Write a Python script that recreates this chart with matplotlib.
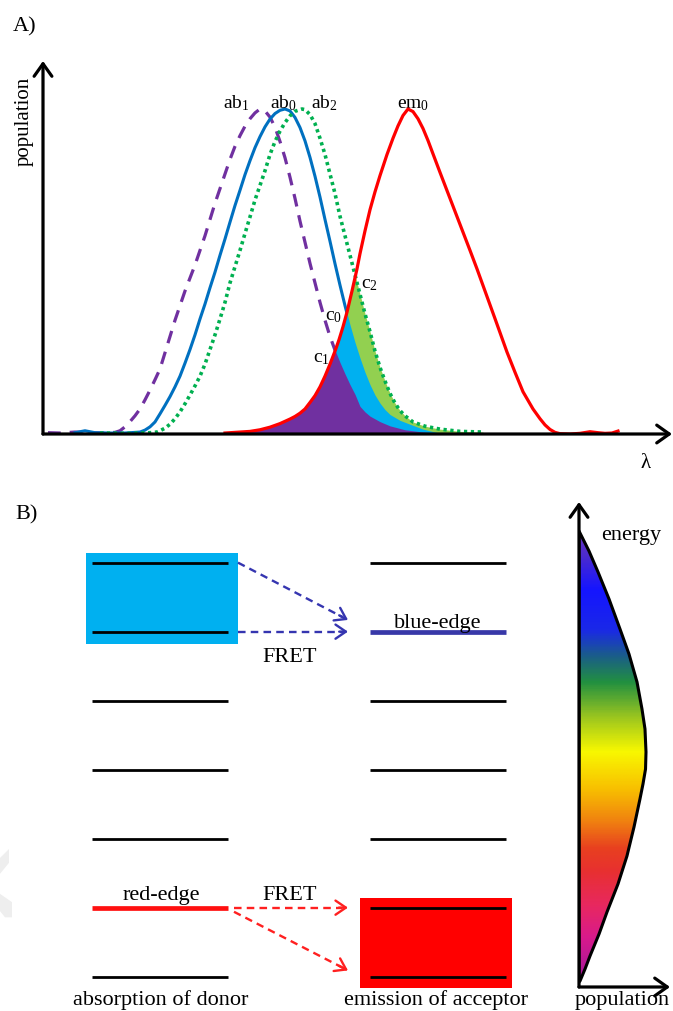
import numpy as np
import matplotlib
matplotlib.use('Agg')
import matplotlib.pyplot as plt
from matplotlib.patches import Polygon, Rectangle
from matplotlib.colors import LinearSegmentedColormap

plt.rcParams['font.family'] = ['Liberation Serif', 'DejaVu Serif']
plt.rcParams['mathtext.fontset'] = 'custom'
plt.rcParams['mathtext.rm'] = 'Liberation Serif'
plt.rcParams['mathtext.it'] = 'Liberation Serif:italic'
plt.rcParams['mathtext.default'] = 'regular'

# ---------------- Panel A data (wavelength, arb. units / normalised population)
ab1_x = [48, 60, 75, 90, 105, 115, 120, 125, 130, 135, 140, 145, 150, 155, 160, 165, 170, 175, 180,
         185, 190, 195, 200, 205, 210, 215, 220, 225, 230, 235, 240, 245, 250, 255, 260, 265, 270,
         275, 280, 285, 290, 295, 300, 305, 310, 315, 320, 325, 330, 335, 340, 345, 350, 355, 360,
         365, 370, 380, 390, 405, 423, 450]
ab1_y = [0.004, 0.003, 0.006, 0.004, 0.003, 0.005, 0.01, 0.022, 0.038, 0.056, 0.077, 0.105, 0.135,
         0.167, 0.2, 0.25, 0.3, 0.35, 0.395, 0.44, 0.48, 0.52, 0.565, 0.61, 0.66, 0.71, 0.755, 0.8,
         0.845, 0.885, 0.918, 0.947, 0.97, 0.988, 1.0, 0.994, 0.975, 0.944, 0.9, 0.85, 0.79, 0.725,
         0.655, 0.59, 0.525, 0.465, 0.405, 0.35, 0.3, 0.258, 0.22, 0.185, 0.152, 0.122, 0.085, 0.068,
         0.055, 0.038, 0.025, 0.013, 0.006, 0.0]

ab0_x = [75, 85, 95, 110, 125, 140, 145, 150, 155, 160, 165, 170, 175, 180, 185, 190, 195, 200, 205,
         210, 215, 220, 225, 230, 235, 240, 245, 250, 255, 260, 265, 270, 275, 280, 285, 290, 295,
         300, 305, 310, 315, 320, 325, 330, 335, 340, 345, 350, 355, 360, 365, 370, 375, 380, 385,
         390, 400, 410, 423, 435, 445]
ab0_y = [0.004, 0.01, 0.004, 0.003, 0.003, 0.006, 0.012, 0.022, 0.037, 0.062, 0.088, 0.115, 0.145,
         0.178, 0.218, 0.26, 0.305, 0.354, 0.4, 0.45, 0.498, 0.55, 0.6, 0.652, 0.703, 0.75, 0.798,
         0.841, 0.881, 0.915, 0.945, 0.969, 0.986, 0.996, 1.0, 0.994, 0.974, 0.943, 0.902, 0.851,
         0.793, 0.729, 0.66, 0.593, 0.524, 0.458, 0.395, 0.336, 0.282, 0.234, 0.19, 0.152, 0.12,
         0.095, 0.075, 0.06, 0.042, 0.03, 0.015, 0.006, 0.0]

ab2_x = [100, 130, 150, 157, 160, 165, 170, 175, 180, 185, 190, 195, 200, 205, 210, 215, 220, 225,
         230, 235, 240, 245, 250, 255, 260, 265, 270, 275, 280, 285, 290, 295, 302, 305, 310, 315,
         320, 325, 330, 335, 340, 345, 350, 355, 360, 365, 370, 375, 380, 385, 390, 395, 400, 405,
         413, 425, 440, 460, 483]
ab2_y = [0.003, 0.002, 0.004, 0.006, 0.01, 0.018, 0.03, 0.047, 0.068, 0.093, 0.12, 0.148, 0.178,
         0.215, 0.26, 0.305, 0.354, 0.405, 0.465, 0.515, 0.565, 0.617, 0.668, 0.72, 0.765, 0.81, 0.86,
         0.9, 0.932, 0.958, 0.979, 0.993, 1.0, 0.998, 0.983, 0.955, 0.91, 0.86, 0.8, 0.74, 0.67, 0.61,
         0.55, 0.49, 0.43, 0.37, 0.315, 0.255, 0.205, 0.163, 0.125, 0.095, 0.072, 0.056, 0.037, 0.024,
         0.015, 0.008, 0.006]

em0_x = [225, 240, 250, 260, 270, 280, 290, 295, 300, 305, 310, 315, 320, 325, 330, 335, 339, 343,
         347, 352, 357, 360, 365, 370, 375, 380, 387, 393, 398, 403, 408, 413, 418, 423, 428, 433,
         440, 450, 460, 470, 477, 485, 495, 507, 515, 523, 533, 540, 545, 550, 555, 560, 570, 580,
         590, 598, 605, 612, 618]
em0_y = [0.003, 0.006, 0.008, 0.013, 0.021, 0.032, 0.046, 0.054, 0.064, 0.077, 0.097, 0.118, 0.145,
         0.178, 0.215, 0.255, 0.29, 0.33, 0.375, 0.44, 0.508, 0.555, 0.625, 0.69, 0.745, 0.795, 0.86,
         0.91, 0.948, 0.98, 1.0, 0.992, 0.97, 0.94, 0.903, 0.862, 0.805, 0.725, 0.645, 0.565, 0.508,
         0.44, 0.355, 0.252, 0.19, 0.13, 0.077, 0.047, 0.028, 0.014, 0.005, 0.001, 0.0, 0.002, 0.007,
         0.004, 0.002, 0.003, 0.009]

# ---------------- Panel B data
levels = [0.15, 1.15, 2.15, 3.15, 4.15, 5.15, 6.15]      # energy levels (arb.)
dist_E = [6.609, 6.319, 6.014, 5.623, 5.188, 4.826, 4.420, 4.029, 3.739, 3.406, 3.159, 2.942, 2.725,
          2.319, 1.899, 1.493, 1.087, 0.768, 0.449, 0.261, 0.087, 0.072]
dist_pop = [0.0, 0.149, 0.284, 0.448, 0.612, 0.746, 0.866, 0.940, 0.985, 1.0, 0.993, 0.955, 0.910,
            0.821, 0.716, 0.582, 0.418, 0.299, 0.164, 0.090, 0.015, 0.0]
grad_E = [0.0, 0.22, 0.70, 1.17, 1.67, 2.0, 2.39, 2.87, 3.41, 3.93, 4.42, 4.80, 5.19, 5.77, 6.25, 6.6, 7.0]
grad_col = ['#a8189c', '#b01898', '#d81a8c', '#e82860', '#e83030', '#e84020', '#f08010', '#f8c000',
            '#f8f800', '#98c420', '#229040', '#1a5e88', '#1a28e8', '#1515ff', '#4a2ad0', '#6a35c0',
            '#6a35c0']

W, H = 673, 1012
fig = plt.figure(figsize=(W / 100, H / 100), dpi=100)


def rect(x0, y0, x1, y1):
    return [x0 / W, 1 - y1 / H, (x1 - x0) / W, (y1 - y0) / H]


arrow_kw = dict(arrowstyle='->, head_length=0.45, head_width=0.32', lw=2.3, color='black',
                mutation_scale=20, shrinkA=0, shrinkB=0)

# ================= Panel A
axA = fig.add_axes(rect(43, 62, 672, 435))
axA.set_xlim(43, 672)
axA.set_ylim(0, (435 - 62) / 325)
axA.axis('off')
axA.annotate('', xy=(1, 0), xytext=(0, 0), xycoords='axes fraction', arrowprops=arrow_kw, zorder=6)
axA.annotate('', xy=(0, 1), xytext=(0, 0), xycoords='axes fraction', arrowprops=arrow_kw, zorder=6)

axA.plot(ab1_x, ab1_y, color='#7030A0', lw=2.3, dashes=(4, 2.8), zorder=2)
axA.plot(ab0_x, ab0_y, color='#0070C0', lw=2.2, zorder=2)

xs = np.linspace(225, 620, 1500)
em = np.interp(xs, em0_x, em0_y)
for abx, aby, col in [(ab2_x, ab2_y, '#92D050'), (ab0_x, ab0_y, '#00B0F0'), (ab1_x, ab1_y, '#7030A0')]:
    ab = np.interp(xs, abx, aby, left=0, right=0)
    axA.fill_between(xs, 0, np.minimum(ab, em), color=col, lw=0, zorder=3)

axA.plot(ab2_x, ab2_y, color='#00B050', lw=2.6, dashes=(0.9, 1.0), zorder=4)
axA.plot(em0_x, em0_y, color='#FF0000', lw=2.3, zorder=5)

tk = dict(fontsize=14, ha='center', va='baseline')
axA.text(236, 1.006, 'ab$_1$', **tk)
axA.text(283, 1.006, 'ab$_0$', **tk)
axA.text(324, 1.006, 'ab$_2$', **tk)
axA.text(413, 1.006, 'em$_0$', **tk)
axA.text(369, 0.452, 'c$_2$', **tk)
axA.text(334, 0.354, 'c$_0$', **tk)
axA.text(321, 0.225, 'c$_1$', **tk)

fig.text(24 / W, 1 - 121 / H, 'population', rotation=90, ha='center', va='center', fontsize=15)
fig.text(646 / W, 1 - 463 / H, 'λ', ha='center', va='center', fontsize=15)
fig.text(13 / W, 1 - 27 / H, 'A)', ha='left', va='center', fontsize=16)
fig.text(15 / W, 1 - 515 / H, 'B)', ha='left', va='center', fontsize=16)

# ================= Panel B
axB = fig.add_axes([0, 0, 1, (H - 490) / H])
axB.set_xlim(0, W)
axB.set_ylim((988 - 1012) / 69, (988 - 490) / 69)
axB.axis('off')

# faint watermark fragments at the left edge
axB.add_patch(Polygon([(0, 1.64), (0, 1.87), (9, 2.0), (9, 1.80)], closed=True, fc='#eeeeee',
                      ec='none', zorder=0))
axB.add_patch(Polygon([(0, 1.35), (12, 1.23), (12, 1.01), (5, 1.01), (0, 1.10)], closed=True,
                      fc='#eeeeee', ec='none', zorder=0))

dx0, dx1 = 92, 228      # donor column
ax0, ax1 = 370, 506     # acceptor column
axB.add_patch(Rectangle((86, levels[5] - 0.18), 152, levels[6] - levels[5] + 0.32,
                        fc='#00B0F0', ec='none', zorder=1))
axB.add_patch(Rectangle((360, levels[0] - 0.16), 152, levels[1] - levels[0] + 0.30,
                        fc='#FF0000', ec='none', zorder=1))
for i, e in enumerate(levels):
    if i == 1:
        axB.plot([dx0, dx1], [e, e], color='#FF1010', lw=3.4, solid_capstyle='butt', zorder=2)
    else:
        axB.plot([dx0, dx1], [e, e], color='black', lw=2.0, solid_capstyle='butt', zorder=2)
    if i == 5:
        axB.plot([ax0, ax1], [e, e], color='#3838A8', lw=3.4, solid_capstyle='butt', zorder=2)
    else:
        axB.plot([ax0, ax1], [e, e], color='black', lw=2.0, solid_capstyle='butt', zorder=2)


def fret(x0, y0, x1, y1, col):
    axB.plot([x0, x1 - 0.05 * (x1 - x0)], [y0, y1 - 0.05 * (y1 - y0)], color=col, lw=1.7,
             dashes=(3.2, 2.2), zorder=3)
    axB.annotate('', xy=(x1, y1), xytext=(x1 - 0.08 * (x1 - x0), y1 - 0.08 * (y1 - y0)),
                 arrowprops=dict(arrowstyle='->, head_length=0.5, head_width=0.34', lw=1.7, color=col,
                                 mutation_scale=15, shrinkA=0, shrinkB=0), zorder=3)


fret(238, levels[6], 348, levels[5] + 0.17, '#3535B0')
fret(238, levels[5], 348, levels[5], '#3535B0')
fret(234, levels[1], 348, levels[1], '#FF2020')
fret(234, levels[1] - 0.06, 348, levels[0] + 0.09, '#FF2020')

tb = dict(fontsize=16, ha='center', va='baseline')
axB.text(438, 5.22, 'blue-edge', **tb)
axB.text(290, 4.72, 'FRET', **tb)
axB.text(161, 1.28, 'red-edge', **tb)
axB.text(290, 1.28, 'FRET', **tb)
axB.text(161, -0.245, 'absorption of donor', **tb)
axB.text(436, -0.245, 'emission of acceptor', **tb)
axB.text(622, -0.245, 'population', **tb)
axB.text(631, 6.49, 'energy', **tb)

# ----- energy distribution inset
axE = fig.add_axes(rect(579, 503, 670, 988))
cmap = LinearSegmentedColormap.from_list('spec', [(e / 7.0, c) for e, c in zip(grad_E, grad_col)])
grad = np.linspace(0, 7, 600).reshape(-1, 1)
img = axE.imshow(grad, extent=[0, 1.1, 0, 7], origin='lower', aspect='auto', cmap=cmap,
                 vmin=0, vmax=7, zorder=1, interpolation='bilinear')
poly = Polygon(np.column_stack([dist_pop, dist_E]), closed=True, fc='none', ec='black', lw=2.2,
               joinstyle='round', zorder=3)
axE.add_patch(poly)
img.set_clip_path(poly)
axE.set_xlim(0, 91 / 67)
axE.set_ylim(0, (988 - 503) / 69)
axE.axis('off')
axE.annotate('', xy=(1, 0), xytext=(0, 0), xycoords='axes fraction', arrowprops=arrow_kw, zorder=6)
axE.annotate('', xy=(0, 1), xytext=(0, 0), xycoords='axes fraction', arrowprops=arrow_kw, zorder=6)

fig.savefig('out.png', dpi=100)
